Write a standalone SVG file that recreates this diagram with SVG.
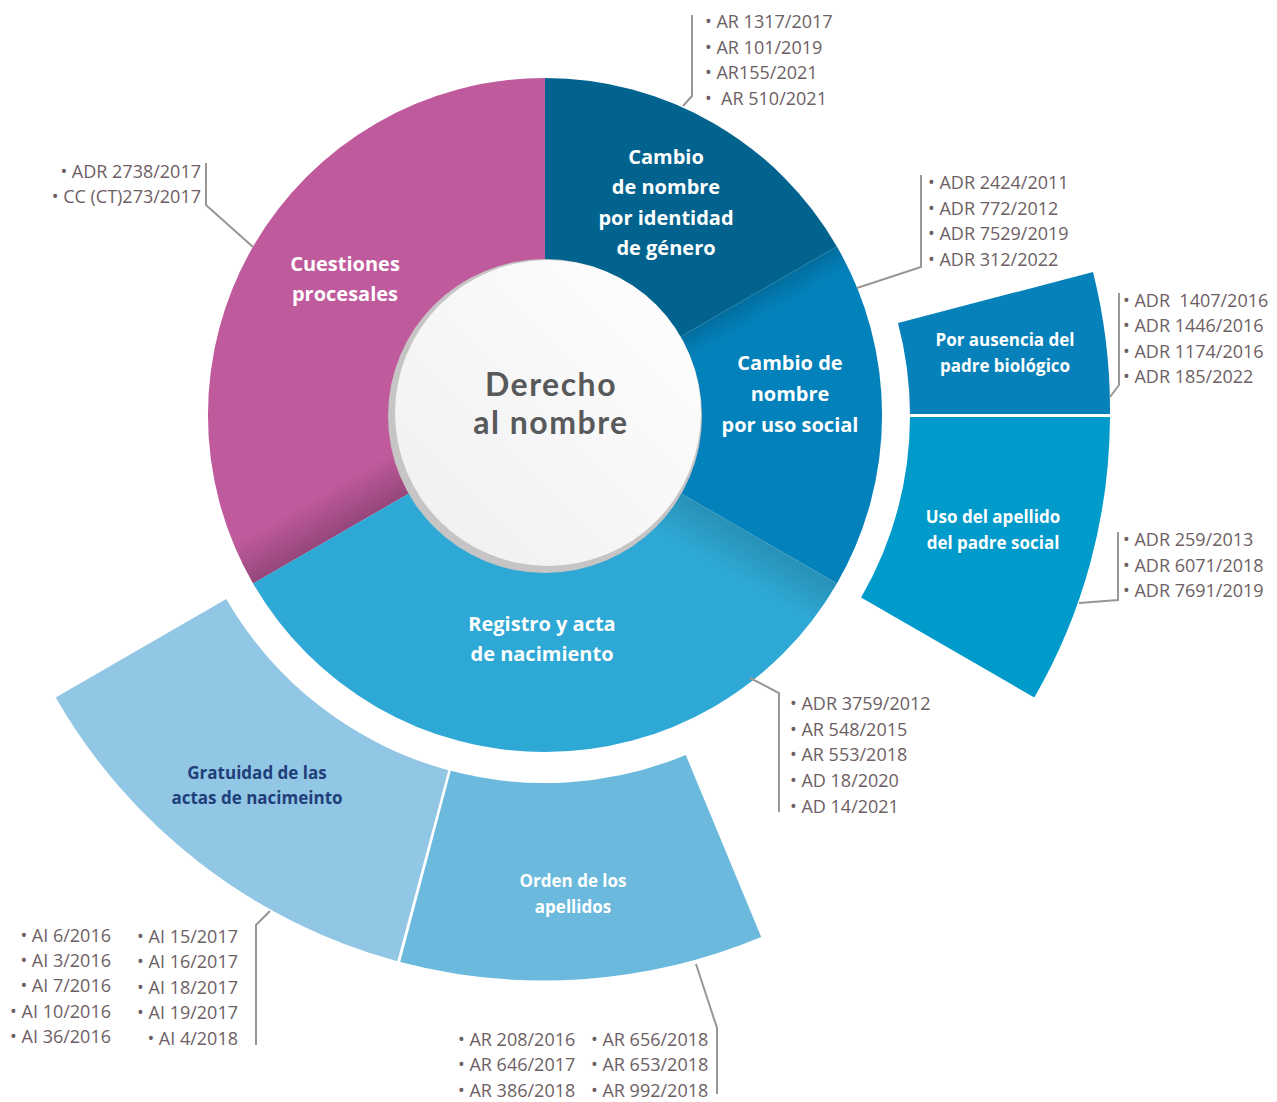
<svg xmlns="http://www.w3.org/2000/svg" width="1277" height="1102" viewBox="0 0 1277 1102">
  <style>
    .ref { font-family: "Open Sans", "Noto Sans", sans-serif; font-size: 18px; fill: #6D6064; }
    .ref-r { font-family: "Open Sans", "Noto Sans", sans-serif; font-size: 18px; fill: #6D6064; text-anchor: end; }
    .lbl { font-family: "Open Sans", "Noto Sans", sans-serif; font-weight: 700; font-size: 20px; fill: #FFFFFF; text-anchor: middle; }
    .lbl-s { font-family: "Open Sans", "Noto Sans", sans-serif; font-weight: 700; font-size: 17px; fill: #FFFFFF; text-anchor: middle; }
    .title { font-family: Lato, "Open Sans", sans-serif; font-weight: 700; font-size: 32px; letter-spacing: 1.5px; fill: #58595B; text-anchor: middle; }
    .lead { fill: none; stroke: #9B9693; stroke-width: 2; }
  </style>
  <defs>
    <linearGradient id="shadeMag" gradientUnits="userSpaceOnUse" x1="400" y1="499" x2="378" y2="461">
      <stop offset="0" stop-color="#000" stop-opacity="0.22"/>
      <stop offset="1" stop-color="#000" stop-opacity="0"/>
    </linearGradient>
    <linearGradient id="shadeReg" gradientUnits="userSpaceOnUse" x1="690" y1="499" x2="668" y2="537">
      <stop offset="0" stop-color="#000" stop-opacity="0.14"/>
      <stop offset="1" stop-color="#000" stop-opacity="0"/>
    </linearGradient>
    <linearGradient id="shadeSoc" gradientUnits="userSpaceOnUse" x1="690" y1="331" x2="702" y2="352">
      <stop offset="0" stop-color="#000" stop-opacity="0.15"/>
      <stop offset="1" stop-color="#000" stop-opacity="0"/>
    </linearGradient>
    <linearGradient id="disc" x1="0" y1="1" x2="1" y2="0">
      <stop offset="0" stop-color="#EFEFEF"/>
      <stop offset="1" stop-color="#FFFFFF"/>
    </linearGradient>
  </defs>

  <!-- inner ring -->
  <g id="cuestiones-procesales">
    <path d="M545,415 L253.1,583.5 A337,337 0 0 1 545,78 Z" fill="#BF5A9C"/>
    <path d="M545,415 L253.1,583.5 A337,337 0 0 1 545,78 Z" fill="url(#shadeMag)"/>
    <text class="lbl" x="345" y="271">Cuestiones</text>
    <text class="lbl" x="345" y="301">procesales</text>
  </g>
  <g id="identidad-genero">
    <path d="M545,415 L545,78 A337,337 0 0 1 836.9,246.5 Z" fill="#02648E"/>
    <text class="lbl" x="666" y="164">Cambio</text>
    <text class="lbl" x="666" y="194">de nombre</text>
    <text class="lbl" x="666" y="225">por identidad</text>
    <text class="lbl" x="666" y="255">de género</text>
  </g>
  <g id="uso-social">
    <path d="M545,415 L836.9,246.5 A337,337 0 0 1 836.9,583.5 Z" fill="#0381BB"/>
    <path d="M545,415 L836.9,246.5 A337,337 0 0 1 836.9,583.5 Z" fill="url(#shadeSoc)"/>
    <text class="lbl" x="790" y="370">Cambio de</text>
    <text class="lbl" x="790" y="401">nombre</text>
    <text class="lbl" x="790" y="432">por uso social</text>
  </g>
  <g id="registro-acta">
    <path d="M545,415 L836.9,583.5 A337,337 0 0 1 253.1,583.5 Z" fill="#2EA8D4"/>
    <path d="M545,415 L836.9,583.5 A337,337 0 0 1 253.1,583.5 Z" fill="url(#shadeReg)"/>
    <text class="lbl" x="542" y="631">Registro y acta</text>
    <text class="lbl" x="542" y="661">de nacimiento</text>
  </g>

  <!-- centre disc -->
  <g id="derecho-al-nombre">
    <circle cx="545" cy="416" r="157" fill="#C6C4C4"/>
    <circle cx="548" cy="413" r="153" fill="url(#disc)"/>
    <text class="title" x="551" y="396">Derecho</text>
    <text class="title" x="551" y="434">al nombre</text>
  </g>

  <!-- outer ring, right -->
  <g id="ausencia-padre">
    <path d="M898,323 L1093,272 A565,565 0 0 1 1110,414 L910,414 A365,365 0 0 0 898,323 Z" fill="#0681BA"/>
    <text class="lbl-s" x="1005" y="346">Por ausencia del</text>
    <text class="lbl-s" x="1005" y="372">padre biológico</text>
  </g>
  <g id="apellido-padre-social">
    <path d="M910,417 L1110,417 A565,565 0 0 1 1034.3,697.5 L861.1,597.5 A365,365 0 0 0 910,417 Z" fill="#009BCB"/>
    <text class="lbl-s" x="993" y="523">Uso del apellido</text>
    <text class="lbl-s" x="993" y="549">del padre social</text>
  </g>

  <!-- outer ring, bottom -->
  <g id="gratuidad-actas">
    <path d="M226.3,599 A368,368 0 0 0 448.3,770.2 L397.3,961.2 A565,565 0 0 1 55.7,697.5 Z" fill="#91C6E4"/>
    <text class="lbl-s" x="257" y="779" style="fill:#1F3F7A">Gratuidad de las</text>
    <text class="lbl-s" x="257" y="804" style="fill:#1F3F7A">actas de nacimeinto</text>
  </g>
  <g id="orden-apellidos">
    <path d="M450.8,770.8 A368,368 0 0 0 685.8,755 L761.2,937 A565,565 0 0 1 400.2,961.9 Z" fill="#6BB9DD"/>
    <text class="lbl-s" x="573" y="887">Orden de los</text>
    <text class="lbl-s" x="573" y="913">apellidos</text>
  </g>

  <!-- leader lines -->
  <g id="connectors">
    <polyline class="lead" points="692,15 692,96 683,106"/>
    <polyline class="lead" points="206,163 206,205 253,247"/>
    <polyline class="lead" points="921,175 921,267 857,288"/>
    <polyline class="lead" points="1119,293 1119,385 1110,397"/>
    <polyline class="lead" points="1118,532 1118,600 1079,603"/>
    <polyline class="lead" points="750,678 779,693 779,812"/>
    <polyline class="lead" points="256,1045 256,925 270,911"/>
    <polyline class="lead" points="696,964 717,1028 717,1094"/>
  </g>

  <!-- case lists -->
  <g id="refs-identidad">
    <text class="ref" x="705" y="28">• AR 1317/2017</text>
    <text class="ref" x="705" y="53.5">• AR 101/2019</text>
    <text class="ref" x="705" y="79">• AR155/2021</text>
    <text class="ref" x="705" y="104.5" xml:space="preserve">•  AR 510/2021</text>
  </g>
  <g id="refs-procesales">
    <text class="ref-r" x="201" y="178">• ADR 2738/2017</text>
    <text class="ref-r" x="201" y="203">• CC (CT)273/2017</text>
  </g>
  <g id="refs-uso-social">
    <text class="ref" x="928" y="189">• ADR 2424/2011</text>
    <text class="ref" x="928" y="215">• ADR 772/2012</text>
    <text class="ref" x="928" y="240">• ADR 7529/2019</text>
    <text class="ref" x="928" y="266">• ADR 312/2022</text>
  </g>
  <g id="refs-ausencia">
    <text class="ref" x="1123" y="307" xml:space="preserve">• ADR  1407/2016</text>
    <text class="ref" x="1123" y="332">• ADR 1446/2016</text>
    <text class="ref" x="1123" y="358">• ADR 1174/2016</text>
    <text class="ref" x="1123" y="383">• ADR 185/2022</text>
  </g>
  <g id="refs-padre-social">
    <text class="ref" x="1123" y="546">• ADR 259/2013</text>
    <text class="ref" x="1123" y="572">• ADR 6071/2018</text>
    <text class="ref" x="1123" y="597">• ADR 7691/2019</text>
  </g>
  <g id="refs-registro">
    <text class="ref" x="790" y="710">• ADR 3759/2012</text>
    <text class="ref" x="790" y="736">• AR 548/2015</text>
    <text class="ref" x="790" y="761">• AR 553/2018</text>
    <text class="ref" x="790" y="787">• AD 18/2020</text>
    <text class="ref" x="790" y="813">• AD 14/2021</text>
  </g>
  <g id="refs-gratuidad">
    <text class="ref-r" x="111" y="942">• AI 6/2016</text>
    <text class="ref-r" x="111" y="967">• AI 3/2016</text>
    <text class="ref-r" x="111" y="992">• AI 7/2016</text>
    <text class="ref-r" x="111" y="1018">• AI 10/2016</text>
    <text class="ref-r" x="111" y="1043">• AI 36/2016</text>
    <text class="ref-r" x="238" y="943">• AI 15/2017</text>
    <text class="ref-r" x="238" y="968">• AI 16/2017</text>
    <text class="ref-r" x="238" y="994">• AI 18/2017</text>
    <text class="ref-r" x="238" y="1019">• AI 19/2017</text>
    <text class="ref-r" x="238" y="1045">• AI 4/2018</text>
  </g>
  <g id="refs-orden">
    <text class="ref" x="458" y="1046">• AR 208/2016</text>
    <text class="ref" x="458" y="1071">• AR 646/2017</text>
    <text class="ref" x="458" y="1097">• AR 386/2018</text>
    <text class="ref" x="591" y="1046">• AR 656/2018</text>
    <text class="ref" x="591" y="1071">• AR 653/2018</text>
    <text class="ref" x="591" y="1097">• AR 992/2018</text>
  </g>
</svg>
